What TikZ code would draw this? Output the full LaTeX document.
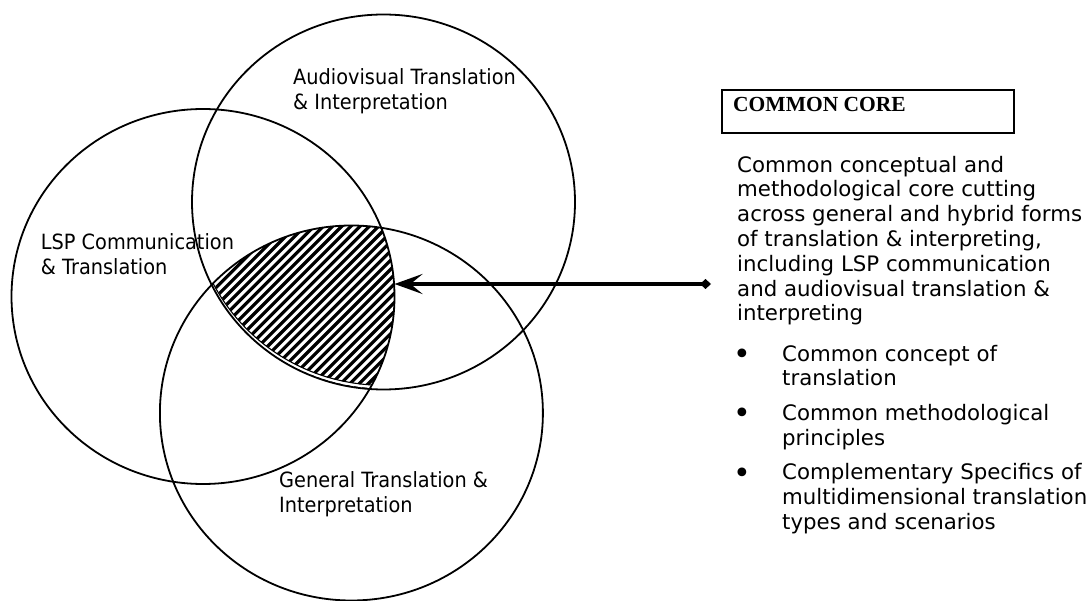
\documentclass[tikz,border=0pt]{standalone}
\usepackage{fontspec}
\setmainfont{DejaVu Sans}
\newfontfamily\labelfont[FakeStretch=0.92]{DejaVu Sans}
\newfontfamily\titlefont{Liberation Serif}
\usepackage{tikz}
\usetikzlibrary{shapes.geometric,arrows.meta}
\tikzset{>=latex}
\tikzset{
  venn/.style={draw, ellipse, line width=1.8pt, minimum width=383pt, minimum height=375pt, inner sep=0pt},
  vennlabel/.style={anchor=base west, align=left, inner sep=0pt, font=\labelfont\fontsize{21}{25}\selectfont},
  body/.style={anchor=base west, align=left, inner sep=0pt, font=\fontsize{21.3}{24.8}\selectfont},
  bul/.style={anchor=base west, inner sep=0pt, font=\fontsize{30}{30}\selectfont},
  hatchline/.style={line width=3.2pt},
  corebox/.style={draw, line width=2pt, anchor=north west, inner sep=0pt, minimum width=292pt, minimum height=43pt},
  corearrow/.style={line width=4.5pt, {Stealth[length=28pt,width=20pt,inset=12pt]}-{Diamond[length=11pt,width=10pt]}}
}

\begin{document}
\begin{tikzpicture}[x=1pt,y=-1pt]
            \useasboundingbox (0,0) rectangle (1087,601);
            % common core, hatched
            \begin{scope}
                \clip (383.5,202) ellipse [x radius=191.5pt, y radius=187.5pt];
                \clip (203,296.5) ellipse [x radius=191.5pt, y radius=187.5pt];
                \clip (351.4,413) ellipse [x radius=191.5pt, y radius=187.5pt];
                \foreach \c in {430,439.2,...,800}
                    \draw[hatchline] ({\c-200},200) -- ({\c-420},420);
                % its own outline, a little off the circle
                \draw[white, line width=2.6pt] (383.5,199.6) ellipse [x radius=191.5pt, y radius=187.5pt];
                \draw[line width=1.1pt] (383.5,197.8) ellipse [x radius=191.5pt, y radius=187.5pt];
            \end{scope}
            % the three fields
            \node[venn] (avt) at (383.5,202) {};
            \node[venn] (lsp) at (203,296.5) {};
            \node[venn] (gen) at (351.4,413) {};
            % labels sit on the baseline of their last line
            \node[vennlabel] (avtlabel) at (293,110) {Audiovisual Translation\\\& Interpretation};
            \node[vennlabel] (lsplabel) at (40.7,275) {LSP Communication\\\& Translation};
            \node[vennlabel] (genlabel) at (279,512) {General Translation \&\\Interpretation};
            % right-hand text
            \node[corebox] (box) at (721,89) {};
            \node[anchor=base west, inner sep=0pt, font=\titlefont\bfseries\fontsize{21.5}{25}\selectfont] (title) at (733,112) {COMMON CORE};
            \node[body] (desc) at (737,321) {Common conceptual and\\methodological core cutting\\across general and hybrid forms\\of translation \& interpreting,\\including LSP communication\\and audiovisual translation \&\\interpreting};
            \node[bul] (bulA) at (733,365) {•};
            \node[body] (itemA) at (782,386) {Common concept of\\translation};
            \node[bul] (bulB) at (733,424) {•};
            \node[body] (itemB) at (782,445) {Common methodological\\principles};
            \node[bul] (bulC) at (733,483) {•};
            \node[body] (itemC) at (782,529) {Complementary Specifics of\\multidimensional translation\\types and scenarios};
            % arrow
            \coordinate (coretip) at (394.5,284);
            \coordinate (coreend) at (711,284);
            \draw[corearrow] (coretip) -- (coreend);
        \end{tikzpicture}
\end{document}
